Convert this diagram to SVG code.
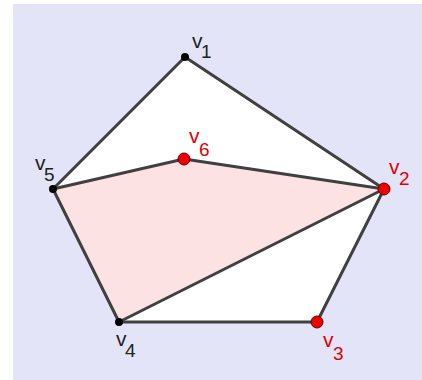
<svg xmlns="http://www.w3.org/2000/svg" width="422" height="380" viewBox="0 0 422 380">
<style>
.bg{fill:#e4e4f9}
.edge{stroke:#404040;stroke-width:3;fill:none;stroke-linecap:round}
.bp{fill:#000}
.rp{fill:#ee0000;stroke:#660000;stroke-width:1}
.lb{font-family:"Liberation Sans",Arial,sans-serif;font-size:21px;fill:#222}
.lr{font-family:"Liberation Sans",Arial,sans-serif;font-size:21px;fill:#e00000}
.sub{font-size:19px}
</style>
<rect x="0" y="0" width="422" height="380" fill="#ffffff"/>
<rect class="bg" x="13" y="4" width="409" height="376"/>
<polygon points="185,57 384,189 317,322 119,322 53,189" fill="#ffffff"/>
<polygon points="53,189 184,159 384,189 119,322" fill="#fde2e4"/>
<g id="connectors">
<line class="edge" x1="185" y1="57" x2="384" y2="189"/>
<line class="edge" x1="384" y1="189" x2="317" y2="322"/>
<line class="edge" x1="317" y1="322" x2="119" y2="322"/>
<line class="edge" x1="119" y1="322" x2="53" y2="189"/>
<line class="edge" x1="53" y1="189" x2="185" y2="57"/>
<line class="edge" x1="53" y1="189" x2="184" y2="159"/>
<line class="edge" x1="184" y1="159" x2="384" y2="189"/>
<line class="edge" x1="384" y1="189" x2="119" y2="322"/>
</g>
<g id="v1"><circle class="bp" cx="185" cy="57" r="4"/><text class="lb" x="192" y="48">v<tspan class="sub" x="201" y="58">1</tspan></text></g>
<g id="v5"><circle class="bp" cx="53" cy="189" r="4"/><text class="lb" x="35" y="170">v<tspan class="sub" x="44" y="181">5</tspan></text></g>
<g id="v4"><circle class="bp" cx="119" cy="322" r="4"/><text class="lb" x="116" y="346">v<tspan class="sub" x="125" y="357">4</tspan></text></g>
<g id="v6"><circle class="rp" cx="184" cy="159" r="6"/><text class="lr" x="189" y="143">v<tspan class="sub" x="199" y="156">6</tspan></text></g>
<g id="v2"><circle class="rp" cx="384" cy="189" r="6"/><text class="lr" x="389" y="174">v<tspan class="sub" x="399" y="185">2</tspan></text></g>
<g id="v3"><circle class="rp" cx="317" cy="322" r="6"/><text class="lr" x="323" y="347">v<tspan class="sub" x="333" y="360">3</tspan></text></g>
</svg>
